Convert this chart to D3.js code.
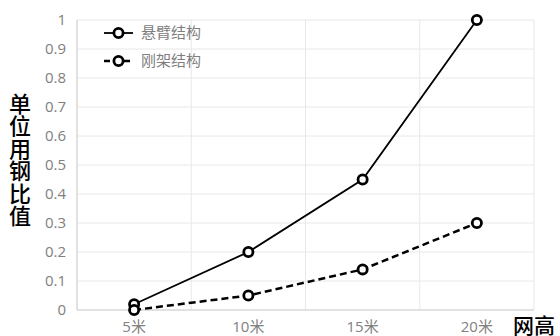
<!DOCTYPE html>
<html>
<head>
<meta charset="utf-8">
<script src="https://cdn.jsdelivr.net/npm/d3@7"></script>
<style>
  body { margin: 0; background: #fff; }
  text { font-family: "Open Sans", "Noto Sans CJK SC", sans-serif; }
</style>
</head>
<body>
<svg width="560" height="336"></svg>
<script>
var categories = ['5米', '10米', '15米', '20米'];
var cantilever = [0.02, 0.2, 0.45, 1];
var frame = [0, 0.05, 0.14, 0.3];
var yTicks = [0, 0.1, 0.2, 0.3, 0.4, 0.5, 0.6, 0.7, 0.8, 0.9, 1];
var seriesNames = ['悬臂结构', '刚架结构'];

var svg = d3.select('svg');
var pl = 77, pr = 534, pt = 20, pb = 310;

var x = d3.scaleBand().domain(categories).range([pl, pr]);
var y = d3.scaleLinear().domain([0, 1]).range([pb, pt]);

// grid
svg.selectAll('line.hg').data(yTicks).enter().append('line')
  .attr('x1', pl).attr('x2', pr)
  .attr('y1', function(d) { return y(d) }).attr('y2', function(d) { return y(d) })
  .attr('stroke', '#e8e8e8').attr('stroke-width', 1);
var vlines = categories.map(function(c) { return x(c) }).concat([pr]);
svg.selectAll('line.vg').data(vlines).enter().append('line')
  .attr('x1', function(d) { return d }).attr('x2', function(d) { return d })
  .attr('y1', pt).attr('y2', pb)
  .attr('stroke', '#e8e8e8').attr('stroke-width', 1);
svg.append('line').attr('x1', pl).attr('x2', pl).attr('y1', pt).attr('y2', pb)
  .attr('stroke', '#d0d0d0');
svg.append('line').attr('x1', pl).attr('x2', pr).attr('y1', pb).attr('y2', pb)
  .attr('stroke', '#d0d0d0');

// tick labels
svg.selectAll('text.yt').data(yTicks).enter().append('text')
  .attr('x', 66).attr('y', function(d) { return y(d) + 5 })
  .attr('text-anchor', 'end').attr('font-size', 15).attr('fill', '#808080')
  .text(function(d) { return d3.format('')(d) });
svg.selectAll('text.xt').data(categories).enter().append('text')
  .attr('x', function(d) { return x(d) + x.bandwidth() / 2 }).attr('y', 332)
  .attr('text-anchor', 'middle').attr('font-size', 15).attr('fill', '#808080')
  .text(function(d) { return d });

// axis titles
var ylab = '单位用钢比值'.split('');
svg.selectAll('text.yl').data(ylab).enter().append('text')
  .attr('x', 20).attr('y', function(d, i) { return 112 + i * 22.4 })
  .attr('text-anchor', 'middle').attr('font-size', 22).attr('font-weight', 500).attr('fill', '#000')
  .style('font-family', '"Noto Sans CJK SC"')
  .text(function(d) { return d });
svg.append('text').attr('x', 534).attr('y', 333).attr('text-anchor', 'middle')
  .attr('font-size', 21).attr('font-weight', 500).attr('fill', '#000').style('font-family', '"Noto Sans CJK SC"')
  .text('网高');

// series
function cx(d, i) { return x(categories[i]) + x.bandwidth() / 2 }
var line = d3.line().x(function(d, i) { return cx(d, i) }).y(function(d) { return y(d) });
var series = [
  { v: cantilever, dash: null, w: 1.8 },
  { v: frame, dash: '7,4', w: 2.5 }
];
series.forEach(function(s) {
  svg.append('path').attr('d', line(s.v)).attr('fill', 'none')
    .attr('stroke', '#000').attr('stroke-width', s.w)
    .attr('stroke-dasharray', s.dash);
  svg.selectAll(null).data(s.v).enter().append('circle')
    .attr('cx', cx).attr('cy', function(d) { return y(d) }).attr('r', 4.6)
    .attr('fill', '#fff').attr('stroke', '#000').attr('stroke-width', 2.8);
});

// legend
series.forEach(function(s, i) {
  var ly = 33 + i * 28;
  svg.append('line').attr('x1', 104).attr('x2', 133).attr('y1', ly).attr('y2', ly)
    .attr('stroke', '#000').attr('stroke-width', s.w).attr('stroke-dasharray', s.dash ? '6,4' : null);
  svg.append('circle').attr('cx', 118.5).attr('cy', ly).attr('r', 4.6)
    .attr('fill', '#fff').attr('stroke', '#000').attr('stroke-width', 2.8);
  svg.append('text').attr('x', 141).attr('y', ly + 5).attr('font-size', 15)
    .attr('fill', '#7f7f7f').style('font-family', '"Noto Sans CJK SC"')
    .text(seriesNames[i]);
});
</script>
</body>
</html>
